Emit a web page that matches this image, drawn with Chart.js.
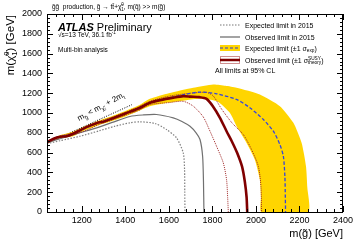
<!DOCTYPE html>
<html>
<head>
<meta charset="utf-8">
<script src="https://cdn.jsdelivr.net/npm/chart.js@4.4.1/dist/chart.umd.min.js"></script>
<style>
  html, body { margin: 0; padding: 0; background: #fff; }
  #wrap { width: 360px; height: 244px; }
</style>
</head>
<body>
<div id="wrap"><canvas id="c" width="360" height="244"></canvas></div>
<script>
// [m(gluino), m(neutralino)] in GeV
const xTicks = [1200, 1400, 1600, 1800, 2000, 2200, 2400];
const yTicks = [0, 200, 400, 600, 800, 1000, 1200, 1400, 1600, 1800, 2000];

const observed = [[1040,705],[1070,740],[1100,760],[1130,765],[1160,790],[1200,835],[1240,875],[1270,900],
  [1300,912],[1340,945],[1400,995],[1460,1045],[1513,1103],[1560,1130],[1620,1155],[1666,1170],[1700,1165],
  [1740,1160],[1773,1143],[1802,1069],[1834,954],[1865,816],[1890,710],[1913,600],[1936,460],[1949,306],
  [1957,150],[1960,0]];
const obsUp = [[1040,712],[1100,768],[1160,800],[1220,860],[1280,915],[1340,958],[1400,1008],[1460,1060],
  [1513,1118],[1600,1170],[1700,1200],[1773,1208],[1804,1172],[1842,1040],[1890,900],[1942,782],[1980,630],
  [2011,462],[2023,259],[2026,0]];
const obsDown = [[1040,698],[1100,752],[1160,780],[1220,825],[1280,885],[1340,930],[1400,978],[1460,1025],
  [1513,1085],[1600,1105],[1666,1118],[1712,1069],[1758,960],[1789,816],[1819,664],[1850,496],[1865,327],
  [1870,150],[1873,0]];
const expected = [[1040,705],[1100,760],[1160,790],[1220,850],[1280,905],[1340,945],[1400,995],[1460,1048],
  [1513,1105],[1600,1150],[1680,1190],[1743,1211],[1819,1194],[1911,1137],[1972,1053],[2034,934],[2080,816],
  [2110,681],[2126,563],[2133,360],[2135,150],[2136,0]];
const expUp = [[1040,715],[1100,775],[1160,810],[1220,870],[1280,925],[1340,970],[1400,1020],[1460,1075],
  [1513,1144],[1600,1200],[1712,1255],[1804,1288],[1860,1275],[1911,1255],[2018,1187],[2110,1069],[2172,901],
  [2210,698],[2230,462],[2236,250],[2240,0]];
const expDown = [[1040,690],[1100,745],[1160,765],[1220,830],[1280,880],[1340,920],[1400,965],[1460,1020],
  [1513,1069],[1600,1105],[1680,1130],[1743,1144],[1819,1120],[1880,1002],[1911,866],[1957,698],[1995,529],
  [2018,327],[2023,150],[2025,0]];
const obs2015 = [[1040,700],[1100,740],[1191,800],[1268,850],[1340,905],[1421,965],[1480,980],[1543,985],
  [1620,951],[1660,915],[1697,866],[1725,800],[1743,732],[1755,563],[1759,300],[1761,0]];
const exp2015 = [[1040,690],[1100,720],[1191,765],[1280,820],[1350,865],[1421,901],[1467,911],[1536,894],
  [1589,833],[1635,749],[1666,597],[1672,430],[1673,200],[1674,0]];
const kinematic = [[1040,694],[1430,1084]];

const pts = a => a.map(([x, y]) => ({ x, y }));
const FONT = '"Liberation Sans", Arial, Helvetica, sans-serif';
Chart.defaults.font.family = FONT;

const line = (data, color, width, dash, order, extra) => Object.assign({
  data: pts(data), showLine: true, borderColor: color, borderWidth: width, borderDash: dash,
  pointRadius: 0, tension: 0.25, fill: false, order
}, extra || {});

// rich text: parts = [{t, sup, sub, bold, italic}]
function rich(ctx, x, y, parts, size) {
  for (const p of parts) {
    ctx.font = (p.italic ? 'italic ' : '') + (p.bold ? 'bold ' : '') + size + 'px ' + FONT;
    ctx.fillText(p.t, x, y);
    x += ctx.measureText(p.t).width;
    let w = 0;
    ctx.font = (size * 0.68) + 'px ' + FONT;
    if (p.sup) { ctx.fillText(p.sup, x, y - size * 0.42); w = ctx.measureText(p.sup).width; }
    if (p.sub) { ctx.fillText(p.sub, x, y + size * 0.28); w = Math.max(w, ctx.measureText(p.sub).width); }
    x += w;
  }
  return x;
}
function richWidth(ctx, parts, size) {
  let w = 0;
  for (const p of parts) {
    ctx.font = (p.italic ? 'italic ' : '') + (p.bold ? 'bold ' : '') + size + 'px ' + FONT;
    w += ctx.measureText(p.t).width;
    ctx.font = (size * 0.68) + 'px ' + FONT;
    w += Math.max(p.sup ? ctx.measureText(p.sup).width : 0, p.sub ? ctx.measureText(p.sub).width : 0);
  }
  return w;
}

const decor = {
  id: 'decor',
  afterDraw(chart) {
    const { ctx, chartArea: a, scales: { x, y } } = chart;
    ctx.save();
    ctx.strokeStyle = '#000';
    ctx.lineWidth = 1;
    ctx.strokeRect(a.left + 0.5, a.top + 0.5, a.right - a.left - 1, a.bottom - a.top);
    ctx.beginPath();
    for (let v = 1040; v <= 2400; v += 40) {
      const px = Math.round(x.getPixelForValue(v)) + 0.5, l = v % 200 === 0 ? 6 : 3;
      ctx.moveTo(px, a.bottom); ctx.lineTo(px, a.bottom - l);
      ctx.moveTo(px, a.top); ctx.lineTo(px, a.top + l);
    }
    for (let v = 0; v <= 2000; v += 40) {
      const py = Math.round(y.getPixelForValue(v)) + 0.5, l = v % 200 === 0 ? 6 : 3;
      ctx.moveTo(a.left, py); ctx.lineTo(a.left + l, py);
      ctx.moveTo(a.right, py); ctx.lineTo(a.right - l, py);
    }
    ctx.stroke();

    ctx.fillStyle = '#000';
    ctx.textBaseline = 'alphabetic';
    // title line
    rich(ctx, 52, 9, [{ t: 'g\u0303g\u0303  production, g\u0303 \u2192 tt\u0304+\u03c7\u0303', sup: '0', sub: '1' },
      { t: ', m(q\u0303) >> m(g\u0303)' }], 6.5);
    // ATLAS label
    let xx = rich(ctx, 58, 30.5, [{ t: 'ATLAS', bold: true, italic: true }], 11);
    rich(ctx, xx + 3, 30.5, [{ t: 'Preliminary' }], 11);
    rich(ctx, 58, 37, [{ t: '\u221as=13 TeV, 36.1 fb', sup: '-1' }], 6.5);
    rich(ctx, 58, 51.5, [{ t: 'Multi-bin analysis' }], 6.5);

    // axis titles
    const xt = [{ t: 'm(g\u0303) [GeV]' }];
    rich(ctx, a.right - richWidth(ctx, xt, 11), 237, xt, 11);
    const yt = [{ t: 'm(\u03c7\u0303', sup: '0', sub: '1' }, { t: ') [GeV]' }];
    ctx.save();
    ctx.translate(14, 15 + richWidth(ctx, yt, 11.5));
    ctx.rotate(-Math.PI / 2);
    rich(ctx, 0, 0, yt, 11.5);
    ctx.restore();

    // kinematic label
    ctx.save();
    ctx.translate(79, 121);
    ctx.rotate(-28 * Math.PI / 180);
    rich(ctx, 0, 0, [{ t: 'm', sub: 'g\u0303' }, { t: ' < m', sub: '\u03c7\u0303\u2081' }, { t: ' + 2m', sub: 't' }], 8);
    ctx.restore();

    // legend
    const lx0 = 220, lx1 = 240, tx = 245;
    const rows = [25, 37, 48, 60];
    ctx.lineWidth = 1.2;
    ctx.strokeStyle = '#777'; ctx.setLineDash([1.5, 1.5]);
    ctx.beginPath(); ctx.moveTo(lx0, rows[0]); ctx.lineTo(lx1, rows[0]); ctx.stroke();
    ctx.setLineDash([]); ctx.strokeStyle = '#666';
    ctx.beginPath(); ctx.moveTo(lx0, rows[1]); ctx.lineTo(lx1, rows[1]); ctx.stroke();
    ctx.fillStyle = '#ffd500'; ctx.fillRect(lx0, rows[2] - 3, lx1 - lx0, 6);
    ctx.strokeStyle = '#3040d0'; ctx.setLineDash([3, 2]);
    ctx.beginPath(); ctx.moveTo(lx0, rows[2]); ctx.lineTo(lx1, rows[2]); ctx.stroke();
    ctx.strokeStyle = '#a02020'; ctx.lineWidth = 1; ctx.setLineDash([1, 1]);
    ctx.strokeRect(lx0 + 0.5, rows[3] - 3.5, lx1 - lx0 - 1, 7);
    ctx.setLineDash([]); ctx.strokeStyle = '#800000'; ctx.lineWidth = 2.5;
    ctx.beginPath(); ctx.moveTo(lx0, rows[3]); ctx.lineTo(lx1, rows[3]); ctx.stroke();
    ctx.fillStyle = '#000';
    rich(ctx, tx, rows[0] + 2.5, [{ t: 'Expected limit in 2015' }], 7);
    rich(ctx, tx, rows[1] + 2.5, [{ t: 'Observed limit in 2015' }], 7);
    rich(ctx, tx, rows[2] + 2.5, [{ t: 'Expected limit (\u00b11 \u03c3', sub: 'exp' }, { t: ')' }], 7);
    rich(ctx, tx, rows[3] + 2.5, [{ t: 'Observed limit (\u00b11 \u03c3', sup: 'SUSY', sub: 'theory' }, { t: ')' }], 7);
    rich(ctx, 215, 72.5, [{ t: 'All limits at 95% CL' }], 7);
    ctx.restore();
  }
};

new Chart(document.getElementById('c'), {
  type: 'scatter',
  data: {
    datasets: [
      line(observed, '#800000', 2.6, [], 0),
      line(expected, '#3344dd', 1.3, [3.5, 2], 1),
      line(obsUp, '#a02828', 1, [1, 1], 2),
      line(obsDown, '#a02828', 1, [1, 1], 2),
      line(obs2015, '#707070', 1.2, [], 3),
      line(exp2015, '#808080', 1.2, [1.5, 1.5], 3),
      line(expUp.concat(expDown.slice().reverse()), 'rgba(0,0,0,0)', 0, [], 5,
        { fill: 'shape', backgroundColor: '#ffd500', tension: 0.2 }),
      line(kinematic, '#000', 1, [1, 1.5], 6, { tension: 0 })
    ]
  },
  options: {
    responsive: false,
    animation: false,
    layout: { padding: { top: 14, right: 17, left: 0, bottom: 0 } },
    plugins: { legend: { display: false }, tooltip: { enabled: false } },
    scales: {
      x: {
        type: 'linear', min: 1040, max: 2400,
        afterBuildTicks: s => { s.ticks = xTicks.map(v => ({ value: v })); },
        afterFit: s => { s.height = 32; },
        grid: { display: false, drawTicks: false },
        border: { display: false },
        ticks: { color: '#000', font: { size: 9 }, padding: 3, maxRotation: 0, callback: v => String(v) }
      },
      y: {
        type: 'linear', min: 0, max: 2000,
        afterBuildTicks: s => { s.ticks = yTicks.map(v => ({ value: v })); },
        afterFit: s => { s.width = 47; },
        grid: { display: false, drawTicks: false },
        border: { display: false },
        ticks: { color: '#000', font: { size: 9 }, padding: 5, callback: v => String(v) }
      }
    }
  },
  plugins: [decor]
});
</script>
</body>
</html>
